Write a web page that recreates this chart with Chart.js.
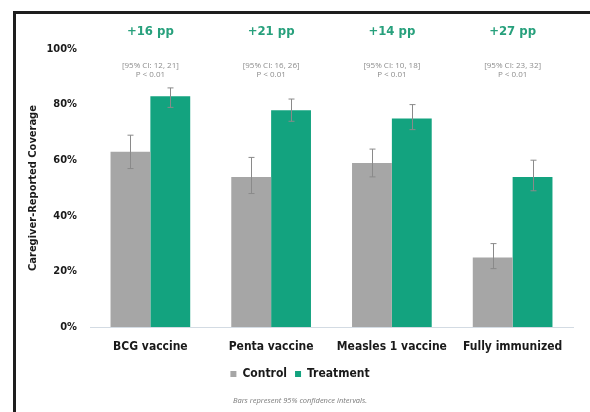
<!DOCTYPE html>
<html>
<head>
<meta charset="utf-8">
<script src="https://cdn.jsdelivr.net/npm/chart.js@4"></script>
<style>
  html, body { margin: 0; padding: 0; background: #fff; }
  #wrap { width: 590px; height: 412px; position: relative; }
</style>
</head>
<body>
<div id="wrap"><canvas id="myChart" width="590" height="412"></canvas></div>
<script>
// values
var categories = ['BCG vaccine', 'Penta vaccine', 'Measles 1 vaccine', 'Fully immunized'];
var controlValues = [63, 54, 59, 25];
var controlLow = [57, 48, 54, 21];
var controlHigh = [69, 61, 64, 30];
var treatmentValues = [83, 78, 75, 54];
var treatmentLow = [79, 74, 71, 49];
var treatmentHigh = [86, 82, 80, 60];
var diffLabels = ['+16 pp', '+21 pp', '+14 pp', '+27 pp'];
var ciLabels = ['[95% CI: 12, 21]', '[95% CI: 16, 26]', '[95% CI: 10, 18]', '[95% CI: 23, 32]'];
var pLabels = ['P < 0.01', 'P < 0.01', 'P < 0.01', 'P < 0.01'];
var footnote = 'Bars represent 95% confidence intervals.';

var boldFont = '"DejaVu Sans Condensed", "DejaVu Sans", sans-serif';

// frame, error bars and the text over each group
var extras = {
    id: 'extras',
    beforeDraw(chart) {
        var ctx = chart.ctx;
        ctx.save();
        ctx.fillStyle = '#fff';
        ctx.fillRect(0, 0, chart.width, chart.height);
        ctx.strokeStyle = '#1e1e1e';
        ctx.lineWidth = 3;
        ctx.beginPath();
        ctx.moveTo(14.5, chart.height);
        ctx.lineTo(14.5, 12.5);
        ctx.lineTo(chart.width, 12.5);
        ctx.stroke();
        ctx.restore();
    },
    afterDatasetsDraw(chart) {
        var ctx = chart.ctx;
        var y = chart.scales.y;
        var lows = [controlLow, treatmentLow];
        var highs = [controlHigh, treatmentHigh];
        ctx.save();
        ctx.strokeStyle = '#8a8a8a';
        ctx.lineWidth = 1;
        for (var d = 0; d < 2; d++) {
            chart.getDatasetMeta(d).data.forEach(function (bar, i) {
                var x = Math.round(bar.x) + 0.5;
                var top = y.getPixelForValue(highs[d][i]);
                var bot = y.getPixelForValue(lows[d][i]);
                ctx.beginPath();
                ctx.moveTo(x, top); ctx.lineTo(x, bot);
                ctx.moveTo(x - 3, top); ctx.lineTo(x + 3, top);
                ctx.moveTo(x - 3, bot); ctx.lineTo(x + 3, bot);
                ctx.stroke();
            });
        }
        var xs = chart.scales.x;
        ctx.textAlign = 'center';
        ctx.textBaseline = 'middle';
        categories.forEach(function (c, i) {
            var cx = xs.getPixelForValue(i);
            ctx.fillStyle = '#27a07c';
            ctx.font = 'bold 13px ' + boldFont;
            ctx.fillText(diffLabels[i], cx, 32);
            ctx.fillStyle = '#8c8c8c';
            ctx.font = '8px "Open Sans", sans-serif';
            ctx.fillText(ciLabels[i], cx, 66);
            ctx.fillText(pLabels[i], cx, 75);
        });
        ctx.fillStyle = '#7a7a7a';
        ctx.font = 'italic 7.5px "Open Sans", sans-serif';
        ctx.fillText(footnote, 300, 401);
        ctx.restore();
    }
};

new Chart(document.getElementById('myChart'), {
    type: 'bar',
    data: {
        labels: categories,
        datasets: [
            { label: 'Control', data: controlValues, backgroundColor: '#a6a6a6' },
            { label: 'Treatment', data: treatmentValues, backgroundColor: '#13a37f' }
        ]
    },
    options: {
        responsive: false,
        animation: false,
        categoryPercentage: 0.66,
        barPercentage: 1,
        layout: { padding: { left: 27, right: 17, top: 49, bottom: 22 } },
        scales: {
            x: {
                grid: { display: false },
                border: { display: true, color: '#d3dbe3', width: 1 },
                ticks: { color: '#1a1a1a', font: { family: boldFont, weight: 'bold', size: 12 }, padding: 5 },
                afterFit(scale) { scale.height = 33; }
            },
            y: {
                min: 0, max: 100,
                grid: { display: false },
                border: { display: false },
                ticks: {
                    stepSize: 20,
                    color: '#1a1a1a',
                    padding: 5,
                    font: { family: boldFont, weight: 'bold', size: 11 },
                    callback: function (v) { return v + '%'; }
                },
                title: {
                    display: true,
                    text: 'Caregiver-Reported Coverage',
                    color: '#1a1a1a',
                    font: { family: boldFont, weight: 'bold', size: 11 },
                    padding: 0
                },
                afterFit(scale) { scale.width = 63; }
            }
        },
        plugins: {
            legend: {
                position: 'bottom',
                labels: {
                    boxWidth: 6, boxHeight: 6, padding: 8,
                    color: '#1a1a1a',
                    font: { family: boldFont, weight: 'bold', size: 12 }
                }
            },
            tooltip: { enabled: false }
        }
    },
    plugins: [extras]
});
</script>
</body>
</html>
